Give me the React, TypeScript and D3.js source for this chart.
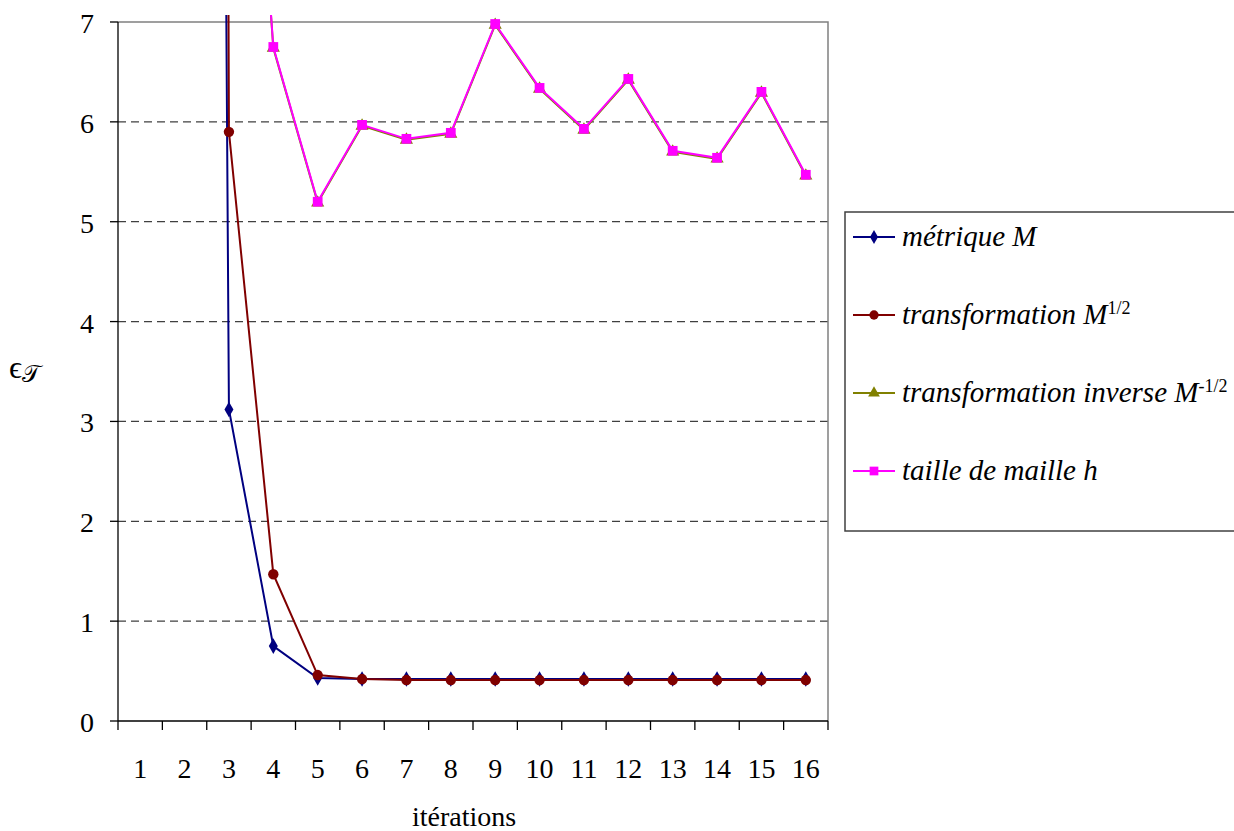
import React, { useEffect, useRef } from 'react';
import * as d3 from 'd3';

const iterations = ['1', '2', '3', '4', '5', '6', '7', '8', '9', '10', '11', '12', '13', '14', '15', '16'];
const yTicks = [0, 1, 2, 3, 4, 5, 6, 7];

// values of the first iterations are far above the visible range
const metriqueM = [120, 70, 3.12, 0.75, 0.43, 0.42, 0.42, 0.42, 0.42, 0.42, 0.42, 0.42, 0.42, 0.42, 0.42, 0.42];
const transfoM12 = [200, 130, 5.9, 1.47, 0.46, 0.42, 0.41, 0.41, 0.41, 0.41, 0.41, 0.41, 0.41, 0.41, 0.41, 0.41];
const transfoInvM12 = [25, 18, 12.99, 6.74, 5.19, 5.96, 5.82, 5.88, 6.97, 6.33, 5.92, 6.42, 5.7, 5.63, 6.29, 5.46];
const tailleH = [25, 18, 13, 6.75, 5.2, 5.97, 5.83, 5.89, 6.98, 6.34, 5.93, 6.43, 5.71, 5.64, 6.3, 5.47];

const series = [
  { name: 'métrique M', sup: '', values: metriqueM, color: '#000080', marker: 'diamond' },
  { name: 'transformation M', sup: '1/2', values: transfoM12, color: '#800000', marker: 'circle' },
  { name: 'transformation inverse M', sup: '-1/2', values: transfoInvM12, color: '#808000', marker: 'triangle' },
  { name: 'taille de maille h', sup: '', values: tailleH, color: '#FF00FF', marker: 'square' },
];

const width = 1234;
const height = 831;

const App: React.FC = () => {
  const svgRef = useRef<SVGSVGElement>(null);

  useEffect(() => {
    document.body.style.margin = '0';
    const svg = d3.select(svgRef.current);
    svg.selectAll('*').remove();

    const left = 118, right = 828, top = 22, bottom = 721;
    const x = d3.scaleBand<string>().domain(iterations).range([left, right]);
    const y = d3.scaleLinear().domain([0, 7]).range([bottom, top]);
    const cx = (d: string) => (x(d) || 0) + x.bandwidth() / 2;
    const font = 'Liberation Serif, Times New Roman, serif';

    svg.append('rect').attr('width', width).attr('height', height).attr('fill', '#fff');

    svg.append('defs').append('clipPath').attr('id', 'plotclip')
      .append('rect').attr('x', left).attr('y', 15).attr('width', right - left + 2).attr('height', bottom - 15);

    // Grid lines
    svg.selectAll('.grid')
      .data(yTicks.filter(t => t > 0 && t < 7))
      .enter()
      .append('line')
      .attr('x1', left).attr('x2', right)
      .attr('y1', d => y(d)).attr('y2', d => y(d))
      .attr('stroke', '#404040')
      .attr('stroke-width', 1.3)
      .attr('stroke-dasharray', '8,5');

    // plot border (top, right)
    svg.append('path')
      .attr('d', `M${left},${top}H${right}V${bottom}`)
      .attr('fill', 'none')
      .attr('stroke', '#808080')
      .attr('stroke-width', 1.5);

    // Y axis
    svg.append('line').attr('x1', left).attr('x2', left).attr('y1', top).attr('y2', bottom)
      .attr('stroke', '#000').attr('stroke-width', 1.3);
    svg.selectAll('.ytick').data(yTicks).enter().append('line')
      .attr('x1', left - 8).attr('x2', left)
      .attr('y1', d => y(d)).attr('y2', d => y(d))
      .attr('stroke', '#000').attr('stroke-width', 1.3);
    svg.selectAll('.ylab').data(yTicks).enter().append('text')
      .attr('x', 94).attr('y', d => y(d) + 11)
      .attr('text-anchor', 'end')
      .attr('font-family', font).attr('font-size', 28)
      .text(d => d);

    // X axis
    svg.append('line').attr('x1', left).attr('x2', right).attr('y1', bottom).attr('y2', bottom)
      .attr('stroke', '#000').attr('stroke-width', 1.3);
    const edges = iterations.map(d => x(d) || 0).concat([right]);
    svg.selectAll('.xtick').data(edges).enter().append('line')
      .attr('x1', d => d).attr('x2', d => d)
      .attr('y1', bottom).attr('y2', bottom + 9)
      .attr('stroke', '#000').attr('stroke-width', 1.3);
    svg.selectAll('.xlab').data(iterations).enter().append('text')
      .attr('x', d => cx(d)).attr('y', 778)
      .attr('text-anchor', 'middle')
      .attr('font-family', font).attr('font-size', 28)
      .text(d => d);

    svg.append('text').attr('x', 464).attr('y', 826)
      .attr('text-anchor', 'middle')
      .attr('font-family', font).attr('font-size', 28)
      .text('itérations');

    // Y label
    const yl = svg.append('text').attr('x', 9).attr('y', 378)
      .attr('font-family', font).attr('font-size', 32);
    yl.append('tspan').text('ϵ');
    yl.append('tspan').attr('font-family', 'DejaVu Serif, serif')
      .attr('font-size', 24).attr('dy', 4).text('𝒯');

    const symbolFor = (m: string, size: number) => {
      const t = m === 'diamond' ? d3.symbolDiamond : m === 'circle' ? d3.symbolCircle
        : m === 'triangle' ? d3.symbolTriangle : d3.symbolSquare;
      return d3.symbol().type(t).size(size)();
    };
    const sizes: Record<string, number> = { diamond: 70, circle: 85, triangle: 75, square: 95 };

    const line = d3.line<number>()
      .x((_, i) => cx(iterations[i]))
      .y(v => y(v));

    const plot = svg.append('g').attr('clip-path', 'url(#plotclip)');
    series.forEach(s => {
      plot.append('path')
        .attr('d', line(s.values) || '')
        .attr('fill', 'none')
        .attr('stroke', s.color)
        .attr('stroke-width', 2);
      plot.selectAll(null)
        .data(s.values.map((v, i) => ({ v, k: iterations[i] })).filter(p => p.v <= 7.05))
        .enter()
        .append('path')
        .attr('transform', p => `translate(${cx(p.k)},${y(p.v)})`)
        .attr('d', symbolFor(s.marker, sizes[s.marker]))
        .attr('fill', s.color);
    });

    // Legend
    const lg = svg.append('g');
    lg.append('rect').attr('x', 845).attr('y', 212).attr('width', 400).attr('height', 319)
      .attr('fill', '#fff').attr('stroke', '#404040').attr('stroke-width', 1.5);
    series.forEach((s, i) => {
      const ly = 237 + i * 78;
      lg.append('line').attr('x1', 853).attr('x2', 895).attr('y1', ly).attr('y2', ly)
        .attr('stroke', s.color).attr('stroke-width', 2);
      lg.append('path').attr('transform', `translate(874,${ly})`)
        .attr('d', symbolFor(s.marker, sizes[s.marker] * 0.8)).attr('fill', s.color);
      const t = lg.append('text').attr('x', 902).attr('y', ly + 9)
        .attr('font-family', font).attr('font-size', 29).attr('font-style', 'italic');
      t.append('tspan').text(s.name);
      if (s.sup) {
        t.append('tspan').attr('font-style', 'normal').attr('font-size', 18).attr('dy', -10).text(s.sup);
      }
    });
  }, []);

  return <svg ref={svgRef} width={width} height={height} style={{ display: 'block' }} />;
};

export default App;
